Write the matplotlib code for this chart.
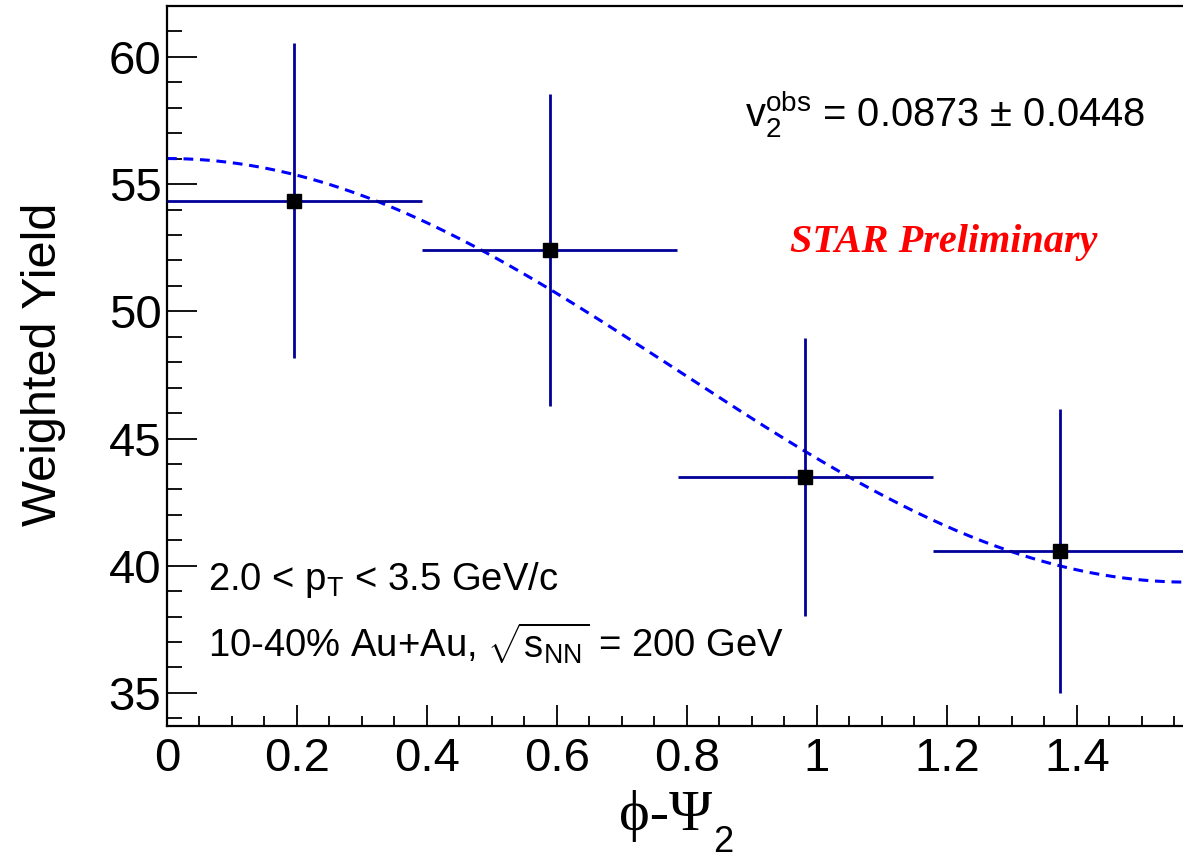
import numpy as np
import matplotlib
matplotlib.use("Agg")
import matplotlib.pyplot as plt
from matplotlib.ticker import MultipleLocator

plt.rcParams['font.family'] = ['Liberation Sans', 'DejaVu Sans']
plt.rcParams['mathtext.fontset'] = 'custom'
plt.rcParams['mathtext.rm'] = 'Liberation Sans'
plt.rcParams['mathtext.it'] = 'Liberation Sans'
plt.rcParams['mathtext.sf'] = 'Liberation Sans'

# yield vs phi - Psi_2, 4 bins in [0, pi/2]
bin_centers = [0.196, 0.589, 0.982, 1.374]
bin_halfwidth = [0.196, 0.196, 0.196, 0.196]
yields = [54.35, 52.41, 43.48, 40.57]
yield_err = [6.2, 6.15, 5.46, 5.58]

# fit A*(1 + 2 v2 cos(2x))
fit_norm = 47.68
v2_obs = 0.0873
v2_err = 0.0448

W, H = 1183, 858
fig = plt.figure(figsize=(W / 100, H / 100), dpi=100)
ax = fig.add_axes([167 / W, 1 - 726 / H, (1188 - 167) / W, (726 - 6) / H])

xf = np.linspace(0, np.pi / 2, 300)
ax.plot(xf, fit_norm * (1 + 2 * v2_obs * np.cos(2 * xf)), color='#0000ff',
        lw=2.2, ls=(0, (3.2, 2.2)), zorder=2)

ax.errorbar(bin_centers, yields, xerr=bin_halfwidth, yerr=yield_err, fmt='s',
            color='#000099', ecolor='#000099', elinewidth=2.0, capsize=0,
            mfc='black', mec='black', ms=10, zorder=3)

ax.set_xlim(0, np.pi / 2)
ax.set_ylim(33.7, 62)
ax.xaxis.set_minor_locator(MultipleLocator(0.05))
ax.yaxis.set_major_locator(MultipleLocator(5))
ax.yaxis.set_minor_locator(MultipleLocator(1))
ax.set_xticks(np.arange(0, 1.41, 0.2))
ax.set_xticklabels(['0', '0.2', '0.4', '0.6', '0.8', '1', '1.2', '1.4'])

ax.tick_params(axis='both', which='both', direction='in', width=1.3,
               labelsize=34, top=False, right=False)
ax.tick_params(axis='y', which='major', length=21.5, pad=4)
ax.tick_params(axis='y', which='minor', length=10.8)
ax.tick_params(axis='x', which='major', length=15, pad=8)
ax.tick_params(axis='x', which='minor', length=7.5)
for s in ax.spines.values():
    s.set_linewidth(1.6)

fig.text(43 / W, 1 - 364 / H, 'Weighted Yield', rotation=90, fontsize=35,
         ha='center', va='center')
fig.text(712 / W, 1 - 830 / H, 'ϕ-Ψ', fontsize=42, ha='right', va='baseline',
         family=['Liberation Serif', 'DejaVu Serif'])
fig.text(713 / W, 1 - 852 / H, '2', fontsize=26, ha='left', va='baseline')

fig.text(745 / W, 1 - 127 / H,
         r'v$_2^{\mathrm{obs}}$ = %.4f ± %.4f' % (v2_obs, v2_err),
         fontsize=28.7, ha='left', va='baseline')
fig.text(790 / W, 1 - 252 / H, 'STAR Preliminary', fontsize=29, color='red',
         family='Liberation Serif', weight='bold', style='italic',
         ha='left', va='baseline')
fig.text(208 / W, 1 - 590 / H, r'2.0 < p$_{\mathrm{T}}$ < 3.5 GeV/c',
         fontsize=27.5, ha='left', va='baseline')
fig.text(208 / W, 1 - 658 / H,
         r'10-40% Au+Au, $\sqrt{\mathrm{s}_{\mathrm{NN}}}$ = 200 GeV',
         fontsize=27.5, ha='left', va='baseline')

fig.savefig('out.png', dpi=100)
